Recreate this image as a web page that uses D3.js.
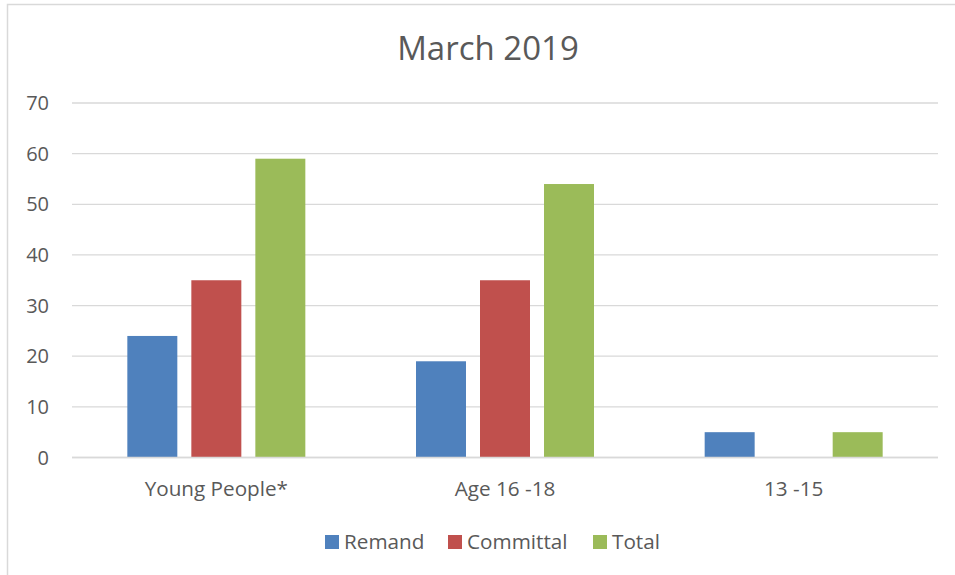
<!DOCTYPE html>
<html>
<head>
<meta charset="utf-8">
<script src="https://cdn.jsdelivr.net/npm/d3@7"></script>
<style>
  body { margin: 0; background: #fff; }
  svg { display: block; font-family: "Open Sans", sans-serif; }
</style>
</head>
<body>
<svg id="chart" width="955" height="575"></svg>
<script>
// Chart data
const categories = ['Young People*', 'Age 16 -18', '13 -15'];
const seriesNames = ['Remand', 'Committal', 'Total'];
const remand = [24, 19, 5];
const committal = [35, 35, 0];
const total = [59, 54, 5];
const yTicks = [0, 10, 20, 30, 40, 50, 60, 70];
const colors = ['#4F81BD', '#C0504D', '#9BBB59'];

const seriesValues = [remand, committal, total];
const rows = categories.map((c, i) => ({
  category: c,
  values: seriesNames.map((s, j) => ({ series: s, value: seriesValues[j][i], color: colors[j] }))
}));

const svg = d3.select('#chart');
const width = 955;
const height = 575;
const plot = { left: 72, right: 938, top: 103, bottom: 457.5 };

// outer chart border
svg.append('rect')
  .attr('x', 7.5).attr('y', 4.5)
  .attr('width', width + 10).attr('height', height + 10)
  .attr('fill', 'none')
  .attr('stroke', '#d9d9d9')
  .attr('stroke-width', 1.5);

const y = d3.scaleLinear().domain([0, 70]).range([plot.bottom, plot.top]);
const x0 = d3.scaleBand().domain(categories).range([plot.left, plot.right]).padding(0);
const groupWidth = 178;
const x1 = d3.scaleBand()
  .domain(seriesNames)
  .range([(x0.bandwidth() - groupWidth) / 2, (x0.bandwidth() + groupWidth) / 2])
  .paddingInner(0.219)
  .paddingOuter(0);

// gridlines
svg.append('g')
  .selectAll('line')
  .data(yTicks)
  .join('line')
  .attr('x1', plot.left)
  .attr('x2', plot.right)
  .attr('y1', d => y(d))
  .attr('y2', d => y(d))
  .attr('stroke', '#d9d9d9')
  .attr('stroke-width', 1.3);

// y tick labels
svg.append('g')
  .selectAll('text')
  .data(yTicks)
  .join('text')
  .attr('x', 49)
  .attr('y', d => y(d))
  .attr('dy', '0.36em')
  .attr('text-anchor', 'end')
  .attr('fill', '#595959')
  .style('font-size', '20px')
  .text(d => d);

// bars
const groups = svg.append('g')
  .selectAll('g')
  .data(rows)
  .join('g')
  .attr('transform', d => `translate(${x0(d.category)},0)`);

groups.selectAll('rect')
  .data(d => d.values.filter(v => v.value > 0))
  .join('rect')
  .attr('x', d => x1(d.series))
  .attr('y', d => y(d.value))
  .attr('width', x1.bandwidth())
  .attr('height', d => y(0) - y(d.value))
  .attr('fill', d => d.color);

// baseline
svg.append('line')
  .attr('x1', plot.left).attr('x2', plot.right)
  .attr('y1', y(0)).attr('y2', y(0))
  .attr('stroke', '#d9d9d9')
  .attr('stroke-width', 1.5);

// category labels
svg.append('g')
  .selectAll('text')
  .data(categories)
  .join('text')
  .attr('x', d => x0(d) + x0.bandwidth() / 2)
  .attr('y', 496)
  .attr('text-anchor', 'middle')
  .attr('fill', '#595959')
  .style('font-size', '20.7px')
  .text(d => d);

// title
svg.append('text')
  .attr('x', 488)
  .attr('y', 60)
  .attr('text-anchor', 'middle')
  .attr('fill', '#595959')
  .style('font-size', '33px')
  .text('March 2019');

// legend
const legendX = [325, 448, 593];
const legend = svg.append('g')
  .selectAll('g')
  .data(seriesNames)
  .join('g')
  .attr('transform', (d, i) => `translate(${legendX[i]},535)`);

legend.append('rect')
  .attr('width', 14).attr('height', 14)
  .attr('fill', (d, i) => colors[i]);

legend.append('text')
  .attr('x', 19)
  .attr('y', 7)
  .attr('dy', '0.36em')
  .attr('fill', '#595959')
  .style('font-size', '20.7px')
  .text(d => d);
</script>
</body>
</html>
